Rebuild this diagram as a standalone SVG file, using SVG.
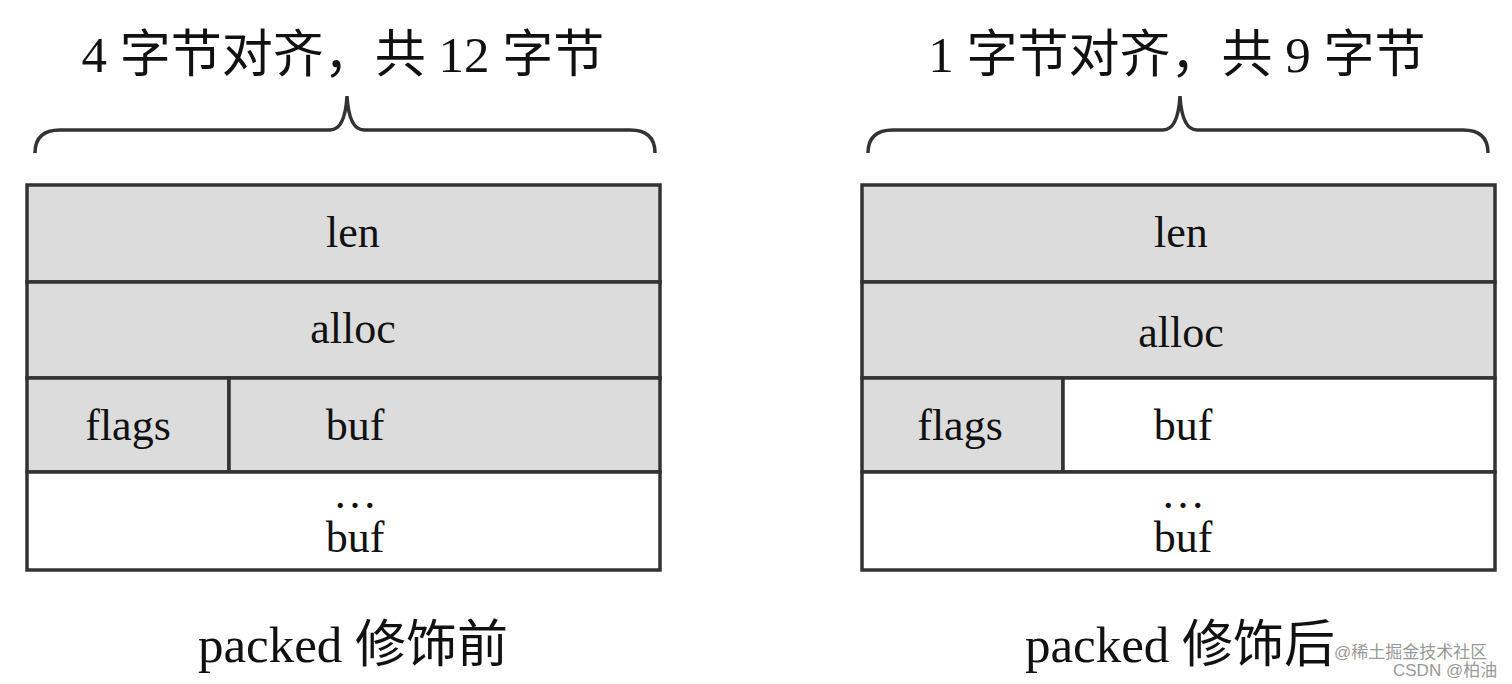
<svg xmlns="http://www.w3.org/2000/svg" width="1512" height="684" viewBox="0 0 1512 684">
<style>
.c{stroke:#333;stroke-width:3.5}
.g{fill:#dcdcdc}.w{fill:#fff}
.t{font-family:"Liberation Serif","Noto Sans CJK SC",serif;font-size:44px;fill:#111;text-anchor:middle}
.h{font-family:"Liberation Serif","Noto Sans CJK SC",serif;font-size:51px;fill:#111;text-anchor:middle}
.b{fill:none;stroke:#333;stroke-width:3.5}
.wm{font-family:"Liberation Sans","Noto Sans CJK SC",sans-serif;font-size:17px;fill:#999}
</style>
<rect width="1512" height="684" fill="#fff"/>
<g id="left">
<text class="h" x="343" y="72">4 字节对齐，共 12 字节</text>
<path class="b" d="M35 153 Q35 130 60 130 L330 130 Q345 130 347 96 Q349 130 364 130 L630 130 Q655 130 655 153"/>
<rect class="c g" x="27" y="185" width="633" height="97"/>
<text class="t" x="353" y="247">len</text>
<rect class="c g" x="27" y="282" width="633" height="96"/>
<text class="t" x="353" y="343">alloc</text>
<rect class="c g" x="27" y="378" width="202" height="94"/>
<text class="t" x="128" y="440">flags</text>
<rect class="c g" x="229" y="378" width="431" height="94"/>
<text class="t" x="355" y="440">buf</text>
<rect class="c w" x="27" y="472" width="633" height="98"/>
<text class="t" x="355" y="508">…</text>
<text class="t" x="355" y="552">buf</text>
<text class="h" x="353" y="662">packed 修饰前</text>
</g>
<g id="right">
<text class="h" x="1177" y="72">1 字节对齐，共 9 字节</text>
<path class="b" d="M868 153 Q868 130 893 130 L1163 130 Q1178 130 1180 96 Q1182 130 1197 130 L1463 130 Q1488 130 1488 153"/>
<rect class="c g" x="862" y="185" width="633" height="97"/>
<text class="t" x="1181" y="247">len</text>
<rect class="c g" x="862" y="282" width="633" height="96"/>
<text class="t" x="1181" y="347">alloc</text>
<rect class="c g" x="862" y="378" width="201" height="94"/>
<text class="t" x="960" y="440">flags</text>
<rect class="c w" x="1063" y="378" width="432" height="94"/>
<text class="t" x="1183" y="440">buf</text>
<rect class="c w" x="862" y="472" width="633" height="98"/>
<text class="t" x="1183" y="508">…</text>
<text class="t" x="1183" y="552">buf</text>
<text class="h" x="1180" y="662">packed 修饰后</text>
</g>
<g id="connectors"/>
<text class="wm" x="1334" y="658">@稀土掘金技术社区</text>
<text class="wm" x="1393" y="676">CSDN @柏油</text>
</svg>
